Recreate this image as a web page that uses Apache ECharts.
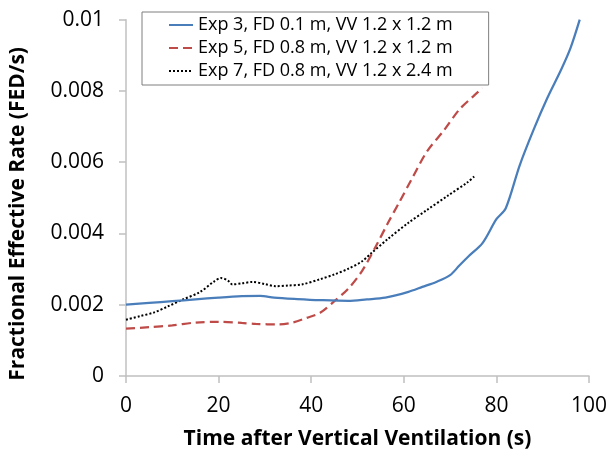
<!DOCTYPE html>
<html>
<head>
<meta charset="utf-8">
<script src="https://cdn.jsdelivr.net/npm/echarts@6/dist/echarts.min.js"></script>
<style>
html,body{margin:0;padding:0;background:#fff;}
#chart{width:610px;height:455px;}
</style>
</head>
<body>
<div id="chart"></div>
<script>
const seriesNames = [
  'Exp 3, FD 0.1 m, VV 1.2 x 1.2 m',
  'Exp 5, FD 0.8 m, VV 1.2 x 1.2 m',
  'Exp 7, FD 0.8 m, VV 1.2 x 2.4 m'
];
const exp3Time = [0, 5, 10, 15, 20, 25, 29, 32, 37, 42, 48, 52, 56, 61, 64, 67, 70, 72, 74, 77, 80, 82, 85, 88, 91, 94, 96, 98];
const exp3Rate = [0.00200, 0.00205, 0.00210, 0.00215, 0.00220, 0.00224, 0.00225, 0.00220, 0.00216, 0.00213, 0.00211, 0.00215, 0.00220, 0.00236, 0.00250, 0.00264, 0.00283, 0.00310, 0.00336, 0.00373, 0.00440, 0.00470, 0.00590, 0.00690, 0.00780, 0.00860, 0.00920, 0.01000];
const exp5Time = [0, 5, 10, 15, 20, 25, 28, 33, 36, 39, 42, 45, 48, 51, 54, 56.6, 59, 61.6, 65, 68.7, 72, 75, 77];
const exp5Rate = [0.00133, 0.00137, 0.00142, 0.00150, 0.00152, 0.00149, 0.00146, 0.00145, 0.00150, 0.00163, 0.00178, 0.00210, 0.00245, 0.00295, 0.00365, 0.00430, 0.00487, 0.00550, 0.00630, 0.00690, 0.00748, 0.00785, 0.00808];
const exp7Time = [0, 3, 6, 9, 12, 16, 19, 20.5, 22, 23, 25, 27.3, 30, 32.3, 35, 38, 42, 45, 48, 51, 53, 56.6, 61, 65, 69.5, 73.7, 75.2];
const exp7Rate = [0.00158, 0.00168, 0.00178, 0.00195, 0.00213, 0.00236, 0.00265, 0.00275, 0.00268, 0.00257, 0.00260, 0.00264, 0.00258, 0.00252, 0.00254, 0.00257, 0.00272, 0.00285, 0.00301, 0.00322, 0.00345, 0.00385, 0.00430, 0.00466, 0.00506, 0.00543, 0.00560];
const xTitle = 'Time after Vertical Ventilation (s)';
const yTitle = 'Fractional Effective Rate (FED/s)';

function pairs(t, v) { return t.map((x, i) => [x, v[i]]); }

const FONT = '"Open Sans", sans-serif';
const chart = echarts.init(document.getElementById('chart'), null, {renderer: 'canvas'});
chart.setOption({
  animation: false,
  backgroundColor: '#ffffff',
  textStyle: {fontFamily: FONT},
  grid: {left: 126, right: 17.5, top: 19.7, bottom: 77.3, containLabel: false},
  legend: {
    orient: 'vertical',
    left: 142, top: 12,
    padding: [4, 36, 5, 26],
    backgroundColor: '#ffffff',
    borderColor: '#7f7f7f', borderWidth: 1,
    itemWidth: 24, itemHeight: 14, itemGap: 5,
    itemStyle: {opacity: 0, borderWidth: 0},
    textStyle: {fontFamily: FONT, fontSize: 18, color: '#000'},
    data: seriesNames
  },
  xAxis: {
    type: 'value', min: 0, max: 100, interval: 20,
    name: xTitle, nameLocation: 'middle', nameGap: 53,
    nameTextStyle: {fontFamily: FONT, fontSize: 21, fontWeight: 'bold', color: '#000'},
    axisLine: {show: true, lineStyle: {color: '#c0c0c0', width: 1.5}},
    axisTick: {show: true, inside: false, length: 7, lineStyle: {color: '#c0c0c0', width: 1.5}},
    axisLabel: {fontFamily: FONT, fontSize: 21, color: '#000', margin: 20},
    splitLine: {show: false}
  },
  yAxis: {
    type: 'value', min: 0, max: 0.01, interval: 0.002,
    name: yTitle, nameLocation: 'middle', nameGap: 97,
    nameTextStyle: {fontFamily: FONT, fontSize: 21, fontWeight: 'bold', color: '#000', padding: [0, 32, 0, 0]},
    axisLine: {show: true, lineStyle: {color: '#c0c0c0', width: 1.5}},
    axisTick: {show: true, inside: false, length: 7, lineStyle: {color: '#c0c0c0', width: 1.5}},
    axisLabel: {fontFamily: FONT, fontSize: 21, color: '#000', margin: 22,
      formatter: v => String(Number(v.toFixed(4)))},
    splitLine: {show: false}
  },
  series: [
    {name: seriesNames[0], type: 'line', data: pairs(exp3Time, exp3Rate), showSymbol: false, symbol: 'none', smooth: 0.3,
     lineStyle: {color: '#4a7ebb', width: 2.25, type: 'solid'}, itemStyle: {color: '#4a7ebb'}, z: 3},
    {name: seriesNames[1], type: 'line', data: pairs(exp5Time, exp5Rate), showSymbol: false, symbol: 'none', smooth: 0.3,
     lineStyle: {color: '#be4b48', width: 2.25, type: [9, 5]}, itemStyle: {color: '#be4b48'}, z: 2},
    {name: seriesNames[2], type: 'line', data: pairs(exp7Time, exp7Rate), showSymbol: false, symbol: 'none', smooth: 0.3,
     lineStyle: {color: '#000000', width: 2, type: [2, 2]}, itemStyle: {color: '#000000'}, z: 1}
  ]
});
</script>
</body>
</html>
